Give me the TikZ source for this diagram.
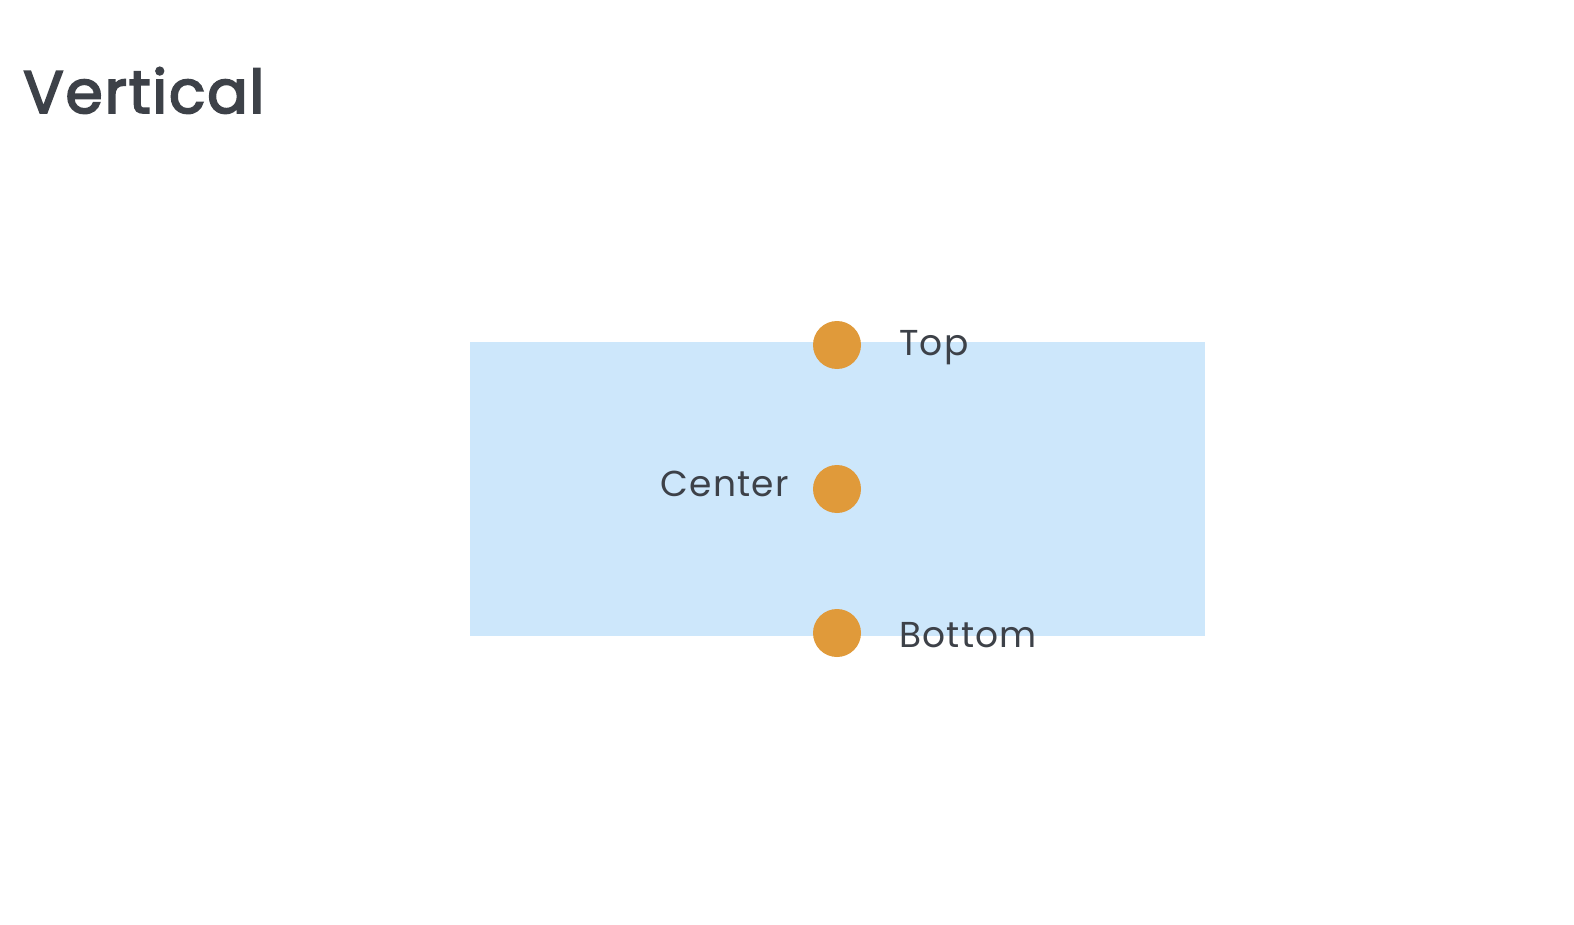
\documentclass[tikz,border=0pt]{standalone}
\usepackage{fontspec}
\setmainfont{Poppins}[LetterSpace=3.5]
\newfontfamily\titlefont{Poppins}[LetterSpace=3]
\newcommand{\heavytext}[1]{\special{pdf:literal direct 2 Tr 1.8 w}#1\special{pdf:literal direct 0 Tr}}
\definecolor{txt}{HTML}{3D4148}
\definecolor{boxblue}{HTML}{CDE7FB}
\definecolor{dotorange}{HTML}{E09A3A}
\begin{document}
\begin{tikzpicture}[x=1pt,y=-1pt,
  lbl/.style={inner sep=0pt,text=txt,font=\fontsize{36}{40}\selectfont},
  dot/.style={circle,fill=dotorange,minimum size=48pt,inner sep=0pt}]
\useasboundingbox[fill=white] (0,0) rectangle (1574,925);
\node[inner sep=0pt,anchor=base west,text=txt,font=\titlefont\fontsize{60}{66}\selectfont] (title) at (23,113) {\heavytext{Vertical}};
\fill[boxblue] (470,342) rectangle (1205,636);
\node[dot] (top) at (837,345) {};
\node[dot] (center) at (837,489) {};
\node[dot] (bottom) at (837,633) {};
\node[lbl,anchor=base west] (ttop) at (899,355) {Top};
\node[lbl,anchor=base east] (tcenter) at (789,496) {Center};
\node[lbl,anchor=base west] (tbottom) at (899,647) {Bottom};
\end{tikzpicture}
\end{document}
